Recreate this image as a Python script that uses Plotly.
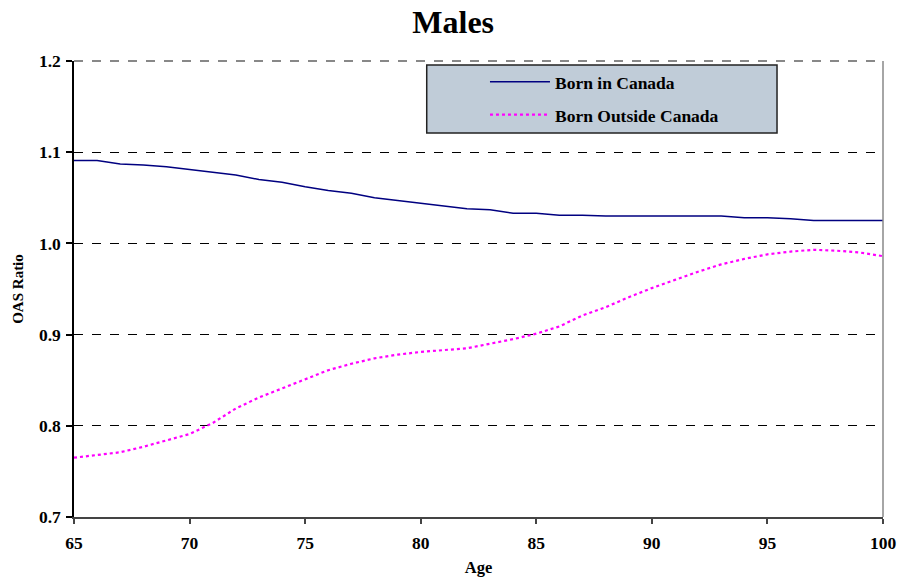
import plotly.graph_objects as go

ages = list(range(65, 101))
born_in_canada = [1.091, 1.091, 1.087, 1.086, 1.084, 1.081, 1.078, 1.075, 1.070, 1.067,
                  1.062, 1.058, 1.055, 1.050, 1.047, 1.044, 1.041, 1.038, 1.037, 1.033,
                  1.033, 1.031, 1.031, 1.030, 1.030, 1.030, 1.030, 1.030, 1.030, 1.028,
                  1.028, 1.027, 1.025, 1.025, 1.025, 1.025]
born_outside_canada = [0.765, 0.768, 0.771, 0.777, 0.784, 0.791, 0.803, 0.819, 0.831, 0.841,
                       0.851, 0.861, 0.868, 0.874, 0.878, 0.881, 0.883, 0.885, 0.890, 0.895,
                       0.901, 0.909, 0.921, 0.930, 0.941, 0.951, 0.960, 0.969, 0.977, 0.983,
                       0.988, 0.991, 0.993, 0.992, 0.990, 0.986]
x_ticks = [65, 70, 75, 80, 85, 90, 95, 100]
y_ticks = [0.7, 0.8, 0.9, 1.0, 1.1, 1.2]
y_tick_labels = ["0.7", "0.8", "0.9", "1.0", "1.1", "1.2"]

FONT = "Liberation Serif, Times New Roman, serif"

fig = go.Figure()
fig.add_trace(go.Scatter(x=ages, y=born_in_canada, mode="lines", name="Born in Canada",
                         line=dict(color="#000080", width=1.5), legend="legend",
                         showlegend=True))
fig.add_trace(go.Scatter(x=ages, y=born_outside_canada, mode="lines", name="Born Outside Canada",
                         line=dict(color="#FF00FF", width=2.2, dash="dot"), legend="legend2",
                         showlegend=True))

legend_common = dict(bgcolor="rgba(0,0,0,0)", borderwidth=0, xanchor="left", yanchor="middle",
                     font=dict(family=FONT, size=17.5, color="black", weight="bold"),
                     itemwidth=60, itemclick=False, visible=True)

fig.update_layout(
    width=901, height=580,
    margin=dict(l=74, r=18, t=61, b=63, autoexpand=False),
    showlegend=True,
    paper_bgcolor="white", plot_bgcolor="white",
    title=dict(text="Males", x=0.503, xanchor="center", y=0.963, yanchor="middle",
               font=dict(family=FONT, size=32, color="black", weight="bold")),
    font=dict(family=FONT, color="black"),
    legend=dict(x=0.508, y=0.954, **legend_common),
    legend2=dict(x=0.508, y=0.882, **legend_common),
    xaxis=dict(range=[65, 100], tickvals=x_ticks, showgrid=False, zeroline=False,
               showline=True, linecolor="#444444", linewidth=2,
               ticks="outside", ticklen=5, tickcolor="#444444", tickwidth=1.5,
               ticklabelstandoff=4, automargin=False,
               tickfont=dict(family=FONT, size=17.5, color="black", weight="bold"),
               title=dict(text="Age", standoff=9,
                          font=dict(family=FONT, size=16.5, color="black", weight="bold"))),
    yaxis=dict(range=[0.7, 1.2], tickvals=y_ticks, ticktext=y_tick_labels,
               showgrid=True, gridcolor="black", griddash="dash", gridwidth=1,
               zeroline=False, showline=True, linecolor="black", linewidth=1.5,
               ticks="outside", ticklen=6, tickcolor="black", tickwidth=1.5,
               ticklabelstandoff=2, automargin=False,
               tickfont=dict(family=FONT, size=17.5, color="black", weight="bold"),
               title=dict(text="OAS Ratio", standoff=12,
                          font=dict(family=FONT, size=15, color="black", weight="bold"))),
    shapes=[
        dict(type="rect", xref="paper", yref="paper", x0=0.436, x1=0.869, y0=0.842, y1=0.991,
             fillcolor="#C0CCD8", line=dict(color="#222222", width=1.5), layer="below"),
        dict(type="line", xref="paper", yref="paper", x0=0, x1=1, y0=1, y1=1,
             line=dict(color="#888888", width=2, dash="dash")),
        dict(type="line", xref="paper", yref="paper", x0=1, x1=1, y0=0, y1=1,
             line=dict(color="#888888", width=1.5)),
    ],
)

fig.write_html("out.html",
               config={"displayModeBar": False},
               post_script="document.body.style.margin='0';document.body.style.overflow='hidden';")
